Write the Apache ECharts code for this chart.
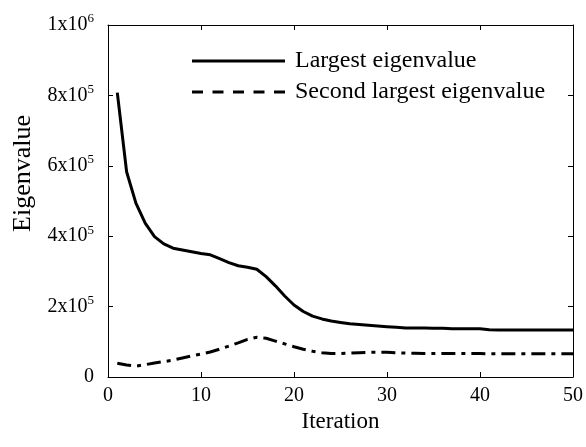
<!DOCTYPE html>
<html><head><meta charset="utf-8">
<script src="https://cdn.jsdelivr.net/npm/echarts@6/dist/echarts.min.js"></script>
<style>html,body{margin:0;padding:0;background:#fff}#c{width:586px;height:447px}</style>
</head><body><div id="c"></div>
<script>
const iterations = [1,2,3,4,5,6,7,8,9,10,11,12,13,14,15,16,17,18,19,20,21,22,23,24,25,26,27,28,29,30,31,32,33,34,35,36,37,38,39,40,41,42,43,44,45,46,47,48,49,50];
const largest = [808000,583000,494000,437000,399000,378000,366000,361000,356000,351000,347000,336000,325000,316000,312000,306000,285000,259000,230000,204500,186000,173000,165000,159000,155000,151000,149000,147000,145000,143000,141000,139000,139000,139000,138500,138500,137000,137000,137000,137000,134000,133500,133500,133500,133500,133500,133500,133500,133500,133500];
const secondLargest = [39000,34000,31000,35000,40000,43600,48000,54000,60000,65000,71000,79000,88000,97000,107000,112700,110000,102000,94000,86000,79000,73000,69000,67000,67000,68000,69000,70000,70000,70000,69000,68000,67500,67000,67000,67000,66500,66500,66500,66500,66000,66000,66000,66000,66000,66000,66000,66000,66000,66000];
const xTicks = [0,10,20,30,40,50];
const yTickLabels = {0:'0',200000:'2x10^5',400000:'4x10^5',600000:'6x10^5',800000:'8x10^5',1000000:'1x10^6'};
const seriesNames = ['Largest eigenvalue','Second largest eigenvalue'];

const FONT = 'Liberation Serif';
function yFmt(v){
  const s = yTickLabels[v];
  if (s === undefined) return '';
  if (s.indexOf('^') < 0) return '{b|' + s + '}';
  const p = s.split('^');
  return '{b|' + p[0] + '}{s|' + p[1] + '}';
}
const SOLID_ICON = 'path://M0,0h93v3h-93z';
const DASH_ICON = 'path://M0,0h11v3h-11zM20.5,0h11v3h-11zM41,0h11v3h-11zM61.5,0h11v3h-11zM82,0h11v3h-11z';
const chart = echarts.init(document.getElementById('c'), null, {renderer:'canvas'});
const axisLine = {show:true, onZero:false, lineStyle:{color:'#000', width:1}};
const tick = {show:true, inside:true, length:5, lineStyle:{color:'#000'}};
chart.setOption({
  animation:false,
  backgroundColor:'#fff',
  grid:{left:108, right:12, top:25, bottom:70, containLabel:false},
  legend:{
    show:true, orient:'vertical', left:187, top:44, itemWidth:93, itemHeight:3, itemGap:7,
    textStyle:{fontFamily:FONT, fontSize:24, lineHeight:24, color:'#000', padding:[0,0,0,5]},
    data:[
      {name:seriesNames[0], icon:SOLID_ICON, itemStyle:{color:'#000'}},
      {name:seriesNames[1], icon:DASH_ICON, itemStyle:{color:'#000'}}
    ]
  },
  xAxis:[
    {type:'value', min:0, max:50, interval:10, position:'bottom',
     name:'Iteration', nameLocation:'middle', nameGap:33,
     nameTextStyle:{fontFamily:FONT, fontSize:23, color:'#000'},
     axisLine:axisLine, axisTick:tick, splitLine:{show:false},
     axisLabel:{fontFamily:FONT, fontSize:20, color:'#000', margin:9}},
    {type:'value', min:0, max:50, interval:10, position:'top',
     axisLine:axisLine, axisTick:tick, splitLine:{show:false}, axisLabel:{show:false}}
  ],
  yAxis:[
    {type:'value', min:0, max:1000000, interval:200000, position:'left',
     axisLine:axisLine, axisTick:tick, splitLine:{show:false},
     axisLabel:{formatter:yFmt, margin:14, color:'#000',
       rich:{b:{fontFamily:FONT, fontSize:20, color:'#000'},
             s:{fontFamily:FONT, fontSize:13, color:'#000', verticalAlign:'top', padding:[0,0,12,0]}}}},
    {type:'value', min:0, max:1000000, interval:200000, position:'right',
     axisLine:axisLine, axisTick:tick, splitLine:{show:false}, axisLabel:{show:false}}
  ],
  graphic:[{type:'text', left:10, top:115, rotation:Math.PI/2,
    style:{text:'Eigenvalue', fontFamily:FONT, fontSize:26, fill:'#000'}}],
  series:[
    {name:seriesNames[0], type:'line', showSymbol:false, symbol:'none', smooth:false,
     xAxisIndex:0, yAxisIndex:0,
     data: iterations.map((x,i)=>[x, largest[i]]),
     lineStyle:{color:'#000', width:3, type:'solid'}, itemStyle:{color:'#000'}},
    {name:seriesNames[1], type:'line', showSymbol:false, symbol:'none', smooth:false,
     xAxisIndex:1, yAxisIndex:1,
     data: iterations.map((x,i)=>[x, secondLargest[i]]),
     lineStyle:{color:'#000', width:3, type:[14,6,4,6]}, itemStyle:{color:'#000'}}
  ]
});
</script></body></html>
